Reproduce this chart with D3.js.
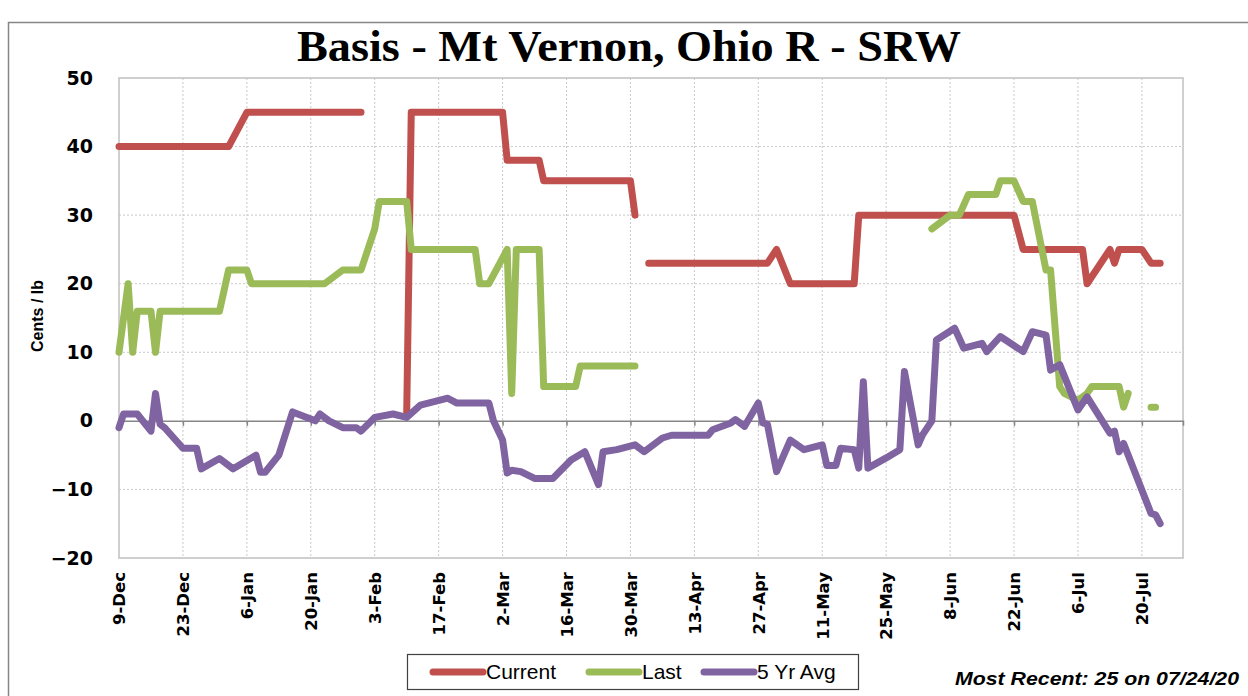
<!DOCTYPE html>
<html lang="en">
<head>
  <meta charset="utf-8">
  <title>Basis - Mt Vernon, Ohio R - SRW</title>
  <script src="https://cdn.jsdelivr.net/npm/d3@7/dist/d3.min.js"></script>
  <style>
    body { margin: 0; background: #fff; }
    text { fill: #000; }
  </style>
</head>
<body>
  <svg class="chart" width="1248" height="696"></svg>
  <script>
    // tick labels on the date axis (every two weeks)
    var tickLabels = ["9-Dec", "23-Dec", "6-Jan", "20-Jan", "3-Feb", "17-Feb", "2-Mar", "16-Mar", "30-Mar",
                      "13-Apr", "27-Apr", "11-May", "25-May", "8-Jun", "22-Jun", "6-Jul", "20-Jul"];
    var tickDates = ["2019-12-09", "2019-12-23", "2020-01-06", "2020-01-20", "2020-02-03", "2020-02-17",
                     "2020-03-02", "2020-03-16", "2020-03-30", "2020-04-13", "2020-04-27", "2020-05-11",
                     "2020-05-25", "2020-06-08", "2020-06-22", "2020-07-06", "2020-07-20"];
    var yTicks = [-20, -10, 0, 10, 20, 30, 40, 50];

    // null = no quote (gap in the line)
    var current = [["2019-12-09", 40], ["2020-01-02", 40], ["2020-01-06", 45], ["2020-01-31", 45],
                   ["2020-02-05", null], ["2020-02-10", 1], ["2020-02-11", 45], ["2020-03-02", 45],
                   ["2020-03-03", 38], ["2020-03-10", 38], ["2020-03-11", 35], ["2020-03-30", 35],
                   ["2020-03-31", 30], ["2020-04-01", null], ["2020-04-03", 23], ["2020-04-29", 23],
                   ["2020-05-01", 25], ["2020-05-04", 20], ["2020-05-18", 20], ["2020-05-19", 30],
                   ["2020-06-22", 30], ["2020-06-24", 25], ["2020-07-07", 25], ["2020-07-08", 20],
                   ["2020-07-13", 25], ["2020-07-14", 23], ["2020-07-15", 25], ["2020-07-20", 25],
                   ["2020-07-22", 23], ["2020-07-24", 23]];

    var last = [["2019-12-09", 10], ["2019-12-11", 20], ["2019-12-12", 10], ["2019-12-13", 16],
                ["2019-12-16", 16], ["2019-12-17", 10], ["2019-12-18", 16], ["2019-12-31", 16],
                ["2020-01-02", 22], ["2020-01-06", 22], ["2020-01-07", 20], ["2020-01-23", 20],
                ["2020-01-27", 22], ["2020-01-31", 22], ["2020-02-03", 28], ["2020-02-04", 32],
                ["2020-02-10", 32], ["2020-02-11", 25], ["2020-02-25", 25], ["2020-02-26", 20],
                ["2020-02-28", 20], ["2020-03-03", 25], ["2020-03-04", 4], ["2020-03-05", 25],
                ["2020-03-10", 25], ["2020-03-11", 5], ["2020-03-18", 5], ["2020-03-19", 8],
                ["2020-03-31", 8], ["2020-04-01", null], ["2020-06-04", 28], ["2020-06-08", 30],
                ["2020-06-10", 30], ["2020-06-12", 33], ["2020-06-18", 33], ["2020-06-19", 35],
                ["2020-06-22", 35], ["2020-06-24", 32], ["2020-06-26", 32], ["2020-06-29", 22],
                ["2020-06-30", 22], ["2020-07-02", 5], ["2020-07-03", 4], ["2020-07-06", 3],
                ["2020-07-08", 4], ["2020-07-09", 5], ["2020-07-15", 5], ["2020-07-16", 2],
                ["2020-07-17", 4], ["2020-07-20", null], ["2020-07-22", 2], ["2020-07-23", 2]];

    var fiveYrAvg = [["2019-12-09", -1], ["2019-12-10", 1], ["2019-12-13", 1], ["2019-12-16", -1.5],
                     ["2019-12-17", 4], ["2019-12-18", -0.5], ["2019-12-19", -1], ["2019-12-23", -4],
                     ["2019-12-26", -4], ["2019-12-27", -7], ["2019-12-31", -5.5], ["2020-01-03", -7],
                     ["2020-01-08", -5], ["2020-01-09", -7.5], ["2020-01-10", -7.5], ["2020-01-13", -5],
                     ["2020-01-16", 1.3], ["2020-01-21", 0], ["2020-01-22", 1], ["2020-01-24", 0],
                     ["2020-01-27", -1], ["2020-01-30", -1], ["2020-01-31", -1.5], ["2020-02-03", 0.5],
                     ["2020-02-07", 1], ["2020-02-10", 0.5], ["2020-02-13", 2.3], ["2020-02-16", 2.8],
                     ["2020-02-19", 3.3], ["2020-02-21", 2.6], ["2020-02-28", 2.6], ["2020-02-29", 0],
                     ["2020-03-02", -2.8], ["2020-03-03", -7.6], ["2020-03-04", -7.2], ["2020-03-06", -7.4],
                     ["2020-03-09", -8.4], ["2020-03-13", -8.4], ["2020-03-17", -5.7], ["2020-03-18", -5.3],
                     ["2020-03-20", -4.5], ["2020-03-23", -9.3], ["2020-03-24", -4.5], ["2020-03-27", -4.2],
                     ["2020-03-31", -3.5], ["2020-04-02", -4.5], ["2020-04-06", -2.5], ["2020-04-08", -2.1],
                     ["2020-04-16", -2.1], ["2020-04-17", -1.3], ["2020-04-21", -0.3], ["2020-04-22", 0.2],
                     ["2020-04-24", -0.8], ["2020-04-27", 2.6], ["2020-04-28", -0.3], ["2020-04-29", -0.5],
                     ["2020-05-01", -7.4], ["2020-05-04", -2.8], ["2020-05-07", -4.2], ["2020-05-11", -3.5],
                     ["2020-05-12", -6.5], ["2020-05-14", -6.5], ["2020-05-15", -4], ["2020-05-18", -4.2],
                     ["2020-05-19", -6.9], ["2020-05-20", 5.7], ["2020-05-21", -6.9], ["2020-05-25", -5.4],
                     ["2020-05-28", -4.2], ["2020-05-29", 7.2], ["2020-06-01", -3.5], ["2020-06-02", -2],
                     ["2020-06-04", 0], ["2020-06-05", 11.8], ["2020-06-09", 13.5], ["2020-06-11", 10.6],
                     ["2020-06-15", 11.3], ["2020-06-16", 10.1], ["2020-06-19", 12.3], ["2020-06-24", 10.1],
                     ["2020-06-26", 13], ["2020-06-29", 12.5], ["2020-06-30", 7.4], ["2020-07-02", 8.2],
                     ["2020-07-06", 1.6], ["2020-07-08", 3.5], ["2020-07-13", -1.8], ["2020-07-14", -1.5],
                     ["2020-07-15", -4.5], ["2020-07-16", -3.3], ["2020-07-22", -13.5], ["2020-07-23", -13.7],
                     ["2020-07-24", -15]];

    var seriesNames = ["Current", "Last", "5 Yr Avg"];
    var seriesColors = ["#c0504d", "#9bbb59", "#8064a2"];

    var parseDate = d3.timeParse("%Y-%m-%d");
    var plotLeft = 119, plotRight = 1183, plotTop = 78, plotBottom = 558;

    var x = d3.scaleTime()
              .domain([parseDate("2019-12-09"), parseDate("2020-07-29")])
              .range([plotLeft, plotRight]);

    var y = d3.scaleLinear()
              .domain([-20, 50])
              .range([plotBottom, plotTop]);

    var svg = d3.select("svg.chart");

    // outer chart frame
    svg.append("rect")
       .attr("x", 8.5).attr("y", 22.5)
       .attr("width", 1260).attr("height", 700)
       .attr("fill", "none")
       .attr("stroke", "#868686")
       .attr("stroke-width", 1.5);

    // title
    svg.append("text")
       .attr("x", 629).attr("y", 61)
       .attr("text-anchor", "middle")
       .attr("font-family", "'Liberation Serif', serif")
       .attr("font-weight", "bold")
       .attr("font-size", 45)
       .attr("textLength", 664)
       .attr("lengthAdjust", "spacingAndGlyphs")
       .text("Basis - Mt Vernon, Ohio R - SRW");

    // gridlines
    var tickDateObjs = tickDates.map(parseDate);
    svg.append("g")
       .selectAll("line")
       .data(yTicks.filter(function(d) { return d !== 0 && d !== -20 && d !== 50; }))
       .enter().append("line")
       .attr("x1", plotLeft).attr("x2", plotRight)
       .attr("y1", function(d) { return y(d); })
       .attr("y2", function(d) { return y(d); })
       .attr("stroke", "#c8c8c8")
       .attr("stroke-dasharray", "2,2");

    svg.append("g")
       .selectAll("line")
       .data(tickDateObjs.slice(1))
       .enter().append("line")
       .attr("x1", function(d) { return x(d); })
       .attr("x2", function(d) { return x(d); })
       .attr("y1", plotTop).attr("y2", plotBottom)
       .attr("stroke", "#c8c8c8")
       .attr("stroke-dasharray", "2,2");

    // plot area border
    svg.append("rect")
       .attr("x", plotLeft).attr("y", plotTop)
       .attr("width", plotRight - plotLeft).attr("height", plotBottom - plotTop)
       .attr("fill", "none")
       .attr("stroke", "#c0c0c0")
       .attr("stroke-width", 1.5);

    // date axis crossing at zero
    var xAxis = svg.append("g")
       .attr("transform", "translate(0," + y(0) + ")")
       .call(d3.axisBottom(x).tickValues(tickDateObjs).tickSize(5).tickFormat(""));
    xAxis.select(".domain").attr("stroke", "#868686").attr("stroke-width", 1.5);
    xAxis.selectAll(".tick line").attr("stroke", "#868686").attr("stroke-width", 1.5);

    // date labels at the bottom
    var xLabels = svg.append("g")
       .attr("transform", "translate(0," + plotBottom + ")")
       .call(d3.axisBottom(x).tickValues(tickDateObjs).tickSize(0)
              .tickFormat(function(d, i) { return tickLabels[i]; }));
    xLabels.select(".domain").remove();
    xLabels.selectAll("text")
       .attr("transform", "rotate(-90)")
       .attr("x", -14).attr("y", 0).attr("dy", "0.35em")
       .attr("text-anchor", "end")
       .attr("font-family", "'DejaVu Sans', sans-serif")
       .attr("font-weight", "bold")
       .attr("font-size", 16.5)
       .attr("fill", "#000");

    // value axis labels
    var yAxis = svg.append("g")
       .attr("transform", "translate(" + plotLeft + ",0)")
       .call(d3.axisLeft(y).tickValues(yTicks).tickSize(0).tickPadding(26));
    yAxis.select(".domain").remove();
    yAxis.selectAll("text")
       .attr("font-family", "'DejaVu Sans', sans-serif")
       .attr("font-weight", "bold")
       .attr("font-size", 19)
       .attr("fill", "#000");

    svg.append("text")
       .attr("transform", "translate(43,316) rotate(-90)")
       .attr("text-anchor", "middle")
       .attr("font-family", "'Liberation Sans', sans-serif")
       .attr("font-weight", "bold")
       .attr("font-size", 16)
       .attr("textLength", 72)
       .attr("lengthAdjust", "spacingAndGlyphs")
       .text("Cents / lb");

    // lines
    var line = d3.line()
                 .defined(function(d) { return d[1] !== null; })
                 .x(function(d) { return x(parseDate(d[0])); })
                 .y(function(d) { return y(d[1]); });

    [current, last, fiveYrAvg].forEach(function(series, i) {
      svg.append("path")
         .datum(series)
         .attr("d", line)
         .attr("fill", "none")
         .attr("stroke", seriesColors[i])
         .attr("stroke-width", 7)
         .attr("stroke-linejoin", "round")
         .attr("stroke-linecap", "round");
    });

    // legend
    svg.append("rect")
       .attr("x", 407.5).attr("y", 654.5)
       .attr("width", 451).attr("height", 35)
       .attr("fill", "#fff")
       .attr("stroke", "#404040")
       .attr("stroke-width", 1.2);

    var legendX = [433, 589, 704];
    var legend = svg.append("g")
       .selectAll("g")
       .data(seriesNames)
       .enter().append("g")
       .attr("transform", function(d, i) { return "translate(" + legendX[i] + ",672)"; });

    legend.append("line")
          .attr("x1", 0).attr("x2", 50)
          .attr("stroke", function(d, i) { return seriesColors[i]; })
          .attr("stroke-width", 7)
          .attr("stroke-linecap", "round");

    legend.append("text")
          .attr("x", 53).attr("y", 7)
          .attr("font-family", "'Liberation Sans', sans-serif")
          .attr("font-size", 21)
          .text(function(d) { return d; });

    svg.append("text")
       .attr("x", 955).attr("y", 685)
       .attr("font-family", "'Liberation Sans', sans-serif")
       .attr("font-weight", "bold")
       .attr("font-style", "italic")
       .attr("font-size", 18)
       .attr("textLength", 284)
       .attr("lengthAdjust", "spacingAndGlyphs")
       .text("Most Recent: 25 on 07/24/20");
  </script>
</body>
</html>
